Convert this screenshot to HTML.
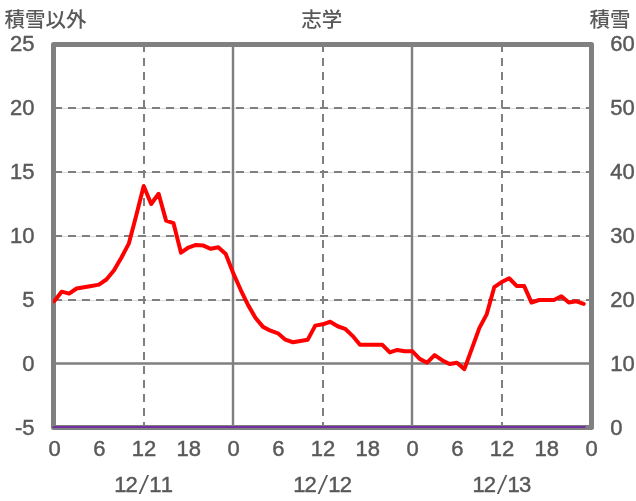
<!DOCTYPE html>
<html><head><meta charset="utf-8"><style>
html,body{margin:0;padding:0;background:#fff;}
svg{display:block;will-change:transform;}
.num{font-family:"Liberation Sans","Noto Sans CJK JP",sans-serif;font-size:22px;fill:#595959;stroke:#595959;stroke-width:0.45px;}
.sl{font-family:"Liberation Sans",sans-serif;font-style:italic;font-size:25px;stroke-width:0;}
.cjk{font-family:"Liberation Sans","Noto Sans CJK JP",sans-serif;font-size:20.5px;font-weight:500;fill:#595959;}
</style></head><body>
<svg width="636" height="501" viewBox="0 0 636 501">
<rect width="636" height="501" fill="#fff"/>
<line x1="54" y1="108.5" x2="591" y2="108.5" stroke="#dadada" stroke-width="1"/>
<line x1="54" y1="108.0" x2="591" y2="108.0" stroke="#7f7f7f" stroke-width="2" stroke-dasharray="8 6"/>
<line x1="54" y1="172.5" x2="591" y2="172.5" stroke="#dadada" stroke-width="1"/>
<line x1="54" y1="172.0" x2="591" y2="172.0" stroke="#7f7f7f" stroke-width="2" stroke-dasharray="8 6"/>
<line x1="54" y1="236.5" x2="591" y2="236.5" stroke="#dadada" stroke-width="1"/>
<line x1="54" y1="236.0" x2="591" y2="236.0" stroke="#7f7f7f" stroke-width="2" stroke-dasharray="8 6"/>
<line x1="54" y1="300.5" x2="591" y2="300.5" stroke="#dadada" stroke-width="1"/>
<line x1="54" y1="300.0" x2="591" y2="300.0" stroke="#7f7f7f" stroke-width="2" stroke-dasharray="8 6"/>
<line x1="144" y1="44" x2="144" y2="427" stroke="#7f7f7f" stroke-width="2" stroke-dasharray="8 6"/>
<line x1="323" y1="44" x2="323" y2="427" stroke="#7f7f7f" stroke-width="2" stroke-dasharray="8 6"/>
<line x1="502" y1="44" x2="502" y2="427" stroke="#7f7f7f" stroke-width="2" stroke-dasharray="8 6"/>
<line x1="233" y1="44.5" x2="233" y2="427" stroke="#7f7f7f" stroke-width="2.4"/>
<line x1="412" y1="44.5" x2="412" y2="427" stroke="#7f7f7f" stroke-width="2.4"/>
<line x1="54" y1="363.5" x2="591" y2="363.5" stroke="#7f7f7f" stroke-width="2.4"/>
<rect x="53.5" y="44.5" width="538" height="383" fill="none" stroke="#808080" stroke-width="5" stroke-linejoin="round"/>
<line x1="53.5" y1="427" x2="584.64" y2="427" stroke="#7030a0" stroke-width="2.2" stroke-linecap="round"/>
<clipPath id="pc"><rect x="53" y="0" width="600" height="501"/></clipPath>
<polyline clip-path="url(#pc)" points="48,301.28 54.20,301.28 61.66,291.68 69.12,293.60 76.58,288.48 84.03,287.20 91.49,285.92 98.95,284.64 106.41,279.52 113.87,270.56 121.33,257.76 128.78,243.68 136.24,215.52 143.70,186.08 151.16,204.00 158.62,193.76 166.07,220.64 173.53,223.20 180.99,252.64 188.45,247.52 195.91,244.96 203.37,245.60 210.82,248.80 218.28,247.26 225.74,253.92 233.20,273.12 240.66,289.76 248.12,305.12 255.57,317.92 263.03,326.88 270.49,330.72 277.95,333.28 285.41,339.68 292.87,342.24 300.32,340.96 307.78,339.68 315.24,325.60 322.70,324.32 330.16,321.76 337.62,326.24 345.07,328.80 352.53,335.84 359.99,344.80 367.45,344.80 374.91,344.80 382.37,344.80 389.82,352.48 397.28,349.92 404.74,351.20 412.20,351.20 419.66,358.88 427.12,362.72 434.57,355.04 442.03,360.16 449.49,364.00 456.95,362.72 464.41,369.12 471.87,348.64 479.32,328.16 486.78,314.08 494.24,287.20 501.70,282.08 509.16,278.24 516.62,285.92 524.08,285.92 531.53,302.56 538.99,300.00 546.45,300.00 553.91,300.00 561.37,296.16 568.83,302.56 576.28,301.28 583.74,303.84" fill="none" stroke="#ff0000" stroke-width="4" stroke-linejoin="round" stroke-linecap="round"/>
<text x="34.5" y="51.0" text-anchor="end" class="num">25</text>
<text x="34.5" y="115.0" text-anchor="end" class="num">20</text>
<text x="34.5" y="179.0" text-anchor="end" class="num">15</text>
<text x="34.5" y="243.0" text-anchor="end" class="num">10</text>
<text x="34.5" y="307.0" text-anchor="end" class="num">5</text>
<text x="34.5" y="371.0" text-anchor="end" class="num">0</text>
<text x="34.5" y="435.0" text-anchor="end" class="num">-5</text>
<text x="610.3" y="51.0" text-anchor="start" class="num">60</text>
<text x="610.3" y="115.0" text-anchor="start" class="num">50</text>
<text x="610.3" y="179.0" text-anchor="start" class="num">40</text>
<text x="610.3" y="243.0" text-anchor="start" class="num">30</text>
<text x="610.3" y="307.0" text-anchor="start" class="num">20</text>
<text x="610.3" y="371.0" text-anchor="start" class="num">10</text>
<text x="610.3" y="435.0" text-anchor="start" class="num">0</text>
<text x="54.5" y="455.5" text-anchor="middle" class="num">0</text>
<text x="99.25" y="455.5" text-anchor="middle" class="num">6</text>
<text x="144.0" y="455.5" text-anchor="middle" class="num">12</text>
<text x="188.75" y="455.5" text-anchor="middle" class="num">18</text>
<text x="233.5" y="455.5" text-anchor="middle" class="num">0</text>
<text x="278.25" y="455.5" text-anchor="middle" class="num">6</text>
<text x="323.0" y="455.5" text-anchor="middle" class="num">12</text>
<text x="367.75" y="455.5" text-anchor="middle" class="num">18</text>
<text x="412.5" y="455.5" text-anchor="middle" class="num">0</text>
<text x="457.25" y="455.5" text-anchor="middle" class="num">6</text>
<text x="502.0" y="455.5" text-anchor="middle" class="num">12</text>
<text x="546.75" y="455.5" text-anchor="middle" class="num">18</text>
<text x="591.5" y="455.5" text-anchor="middle" class="num">0</text>
<text y="492" class="num"><tspan x="114.20">1</tspan><tspan x="125.50">2</tspan><tspan x="139.90" y="493.8" class="sl">/</tspan><tspan x="149.30" y="492">1</tspan><tspan x="160.80">1</tspan></text>
<text y="492" class="num"><tspan x="293.20">1</tspan><tspan x="304.50">2</tspan><tspan x="318.90" y="493.8" class="sl">/</tspan><tspan x="328.30" y="492">1</tspan><tspan x="339.80">2</tspan></text>
<text y="492" class="num"><tspan x="472.50">1</tspan><tspan x="483.80">2</tspan><tspan x="498.20" y="493.8" class="sl">/</tspan><tspan x="507.60" y="492">1</tspan><tspan x="519.10">3</tspan></text>
<text x="4.5" y="27" text-anchor="start" class="cjk">積雪以外</text>
<text x="321.8" y="27" text-anchor="middle" class="cjk">志学</text>
<text x="589.5" y="27" text-anchor="start" class="cjk">積雪</text>
</svg>
</body></html>
